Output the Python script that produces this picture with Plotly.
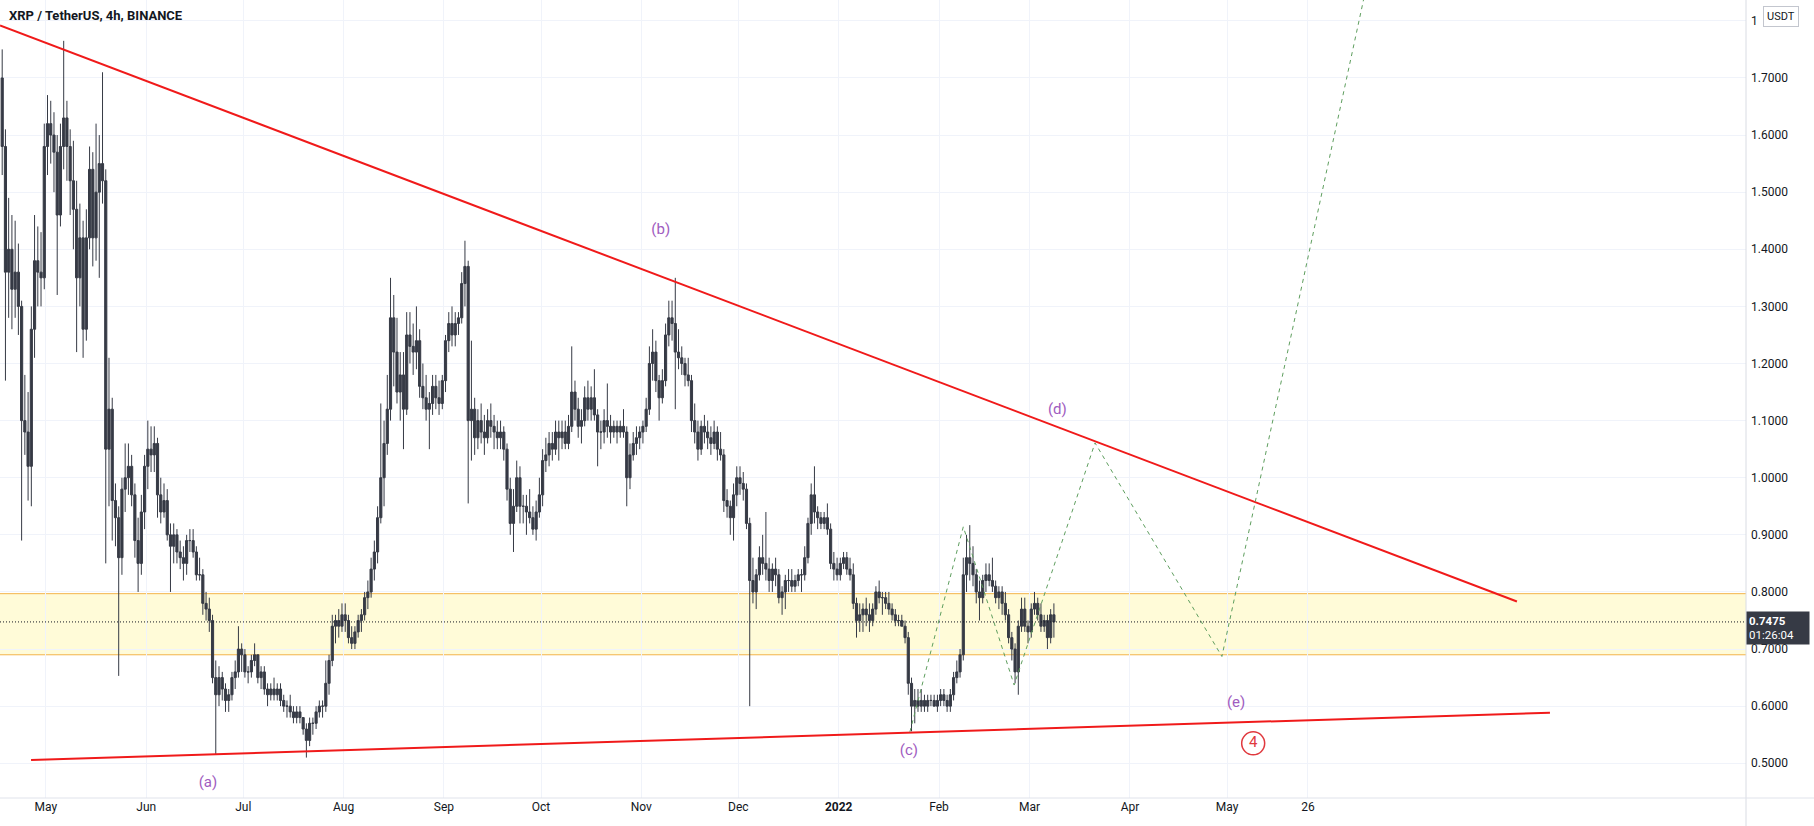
import pandas as pd
import plotly.graph_objects as go

# ---------------- data (daily summary of the 4h XRP/USDT candles) ----------------
first_day = "2021-04-17"

opens = [
    # Apr 17-30
    1.70, 1.58, 1.36, 1.40, 1.33, 1.36, 1.30, 1.10, 1.08, 1.02, 1.26, 1.38, 1.36, 1.35,
    # May
    1.58, 1.62, 1.60, 1.57, 1.46, 1.58, 1.63, 1.58, 1.52, 1.47, 1.35, 1.42, 1.26, 1.42, 1.54, 1.42,
    1.50, 1.55, 1.52, 1.05, 1.12, 0.96, 0.93, 0.86, 0.98, 1.00, 1.02, 0.97, 0.89, 0.85, 0.94,
    # Jun
    1.02, 1.05, 1.04, 1.06, 0.97, 0.94, 0.96, 0.90, 0.88, 0.90, 0.87, 0.86, 0.85, 0.89, 0.89,
    0.87, 0.83, 0.83, 0.78, 0.77, 0.75, 0.65, 0.62, 0.65, 0.63, 0.61, 0.62, 0.65, 0.66, 0.70,
    # Jul
    0.69, 0.66, 0.66, 0.68, 0.69, 0.65, 0.66, 0.63, 0.62, 0.63, 0.62, 0.63, 0.61, 0.60, 0.60, 0.59,
    0.58, 0.59, 0.58, 0.56, 0.54, 0.57, 0.57, 0.59, 0.60, 0.60, 0.64, 0.68, 0.74, 0.75, 0.74,
    # Aug
    0.76, 0.75, 0.72, 0.71, 0.73, 0.75, 0.76, 0.79, 0.80, 0.84, 0.87, 0.93, 1.00, 1.06, 1.12, 1.28,
    1.22, 1.15, 1.18, 1.12, 1.25, 1.23, 1.22, 1.24, 1.16, 1.14, 1.12, 1.13, 1.16, 1.14, 1.13,
    # Sep
    1.17, 1.24, 1.27, 1.25, 1.27, 1.28, 1.34, 1.37, 1.10, 1.12, 1.07, 1.10, 1.08, 1.07, 1.10,
    1.09, 1.08, 1.07, 1.08, 1.05, 0.98, 0.92, 0.95, 1.00, 0.95, 0.95, 0.94, 0.93, 0.91, 0.94,
    # Oct
    0.97, 1.03, 1.04, 1.06, 1.05, 1.08, 1.07, 1.08, 1.06, 1.09, 1.15, 1.12, 1.09, 1.10, 1.14, 1.12,
    1.14, 1.11, 1.08, 1.08, 1.10, 1.09, 1.08, 1.09, 1.08, 1.09, 1.08, 1.00, 1.04, 1.06, 1.07,
    # Nov
    1.08, 1.09, 1.12, 1.20, 1.22, 1.17, 1.14, 1.17, 1.25, 1.28, 1.27, 1.22, 1.21, 1.20, 1.18,
    1.17, 1.10, 1.08, 1.05, 1.09, 1.08, 1.07, 1.06, 1.08, 1.05, 1.04, 0.96, 0.95, 0.93, 0.97,
    # Dec
    1.00, 0.99, 0.98, 0.92, 0.82, 0.80, 0.83, 0.86, 0.85, 0.84, 0.82, 0.84, 0.83, 0.79, 0.80, 0.82,
    0.82, 0.81, 0.82, 0.83, 0.83, 0.86, 0.92, 0.97, 0.94, 0.93, 0.92, 0.93, 0.91, 0.85, 0.84,
    # Jan 2022
    0.83, 0.85, 0.86, 0.84, 0.83, 0.78, 0.75, 0.76, 0.77, 0.76, 0.75, 0.77, 0.80, 0.79, 0.79, 0.78,
    0.77, 0.76, 0.75, 0.75, 0.74, 0.72, 0.64, 0.60, 0.61, 0.60, 0.61, 0.60, 0.61, 0.61, 0.60,
    # Feb
    0.61, 0.62, 0.61, 0.60, 0.62, 0.65, 0.66, 0.69, 0.83, 0.86, 0.85, 0.83, 0.80, 0.79,
    0.82, 0.83, 0.82, 0.81, 0.79, 0.80, 0.78, 0.76, 0.72, 0.70, 0.66, 0.74, 0.77, 0.74,
    # Mar 1-8
    0.73, 0.77, 0.78, 0.76, 0.74, 0.75, 0.72, 0.76,
]

highs = [
    # Apr 17-30
    1.75, 1.61, 1.49, 1.46, 1.45, 1.41, 1.31, 1.18, 1.15, 1.30, 1.46, 1.44, 1.43, 1.62,
    # May
    1.67, 1.66, 1.64, 1.60, 1.62, 1.765, 1.66, 1.61, 1.59, 1.52, 1.48, 1.45, 1.47, 1.58, 1.57, 1.62,
    1.60, 1.71, 1.54, 1.21, 1.14, 0.99, 0.95, 1.00, 1.06, 1.06, 1.04, 0.99, 0.93, 0.97, 1.04,
    # Jun
    1.10, 1.09, 1.09, 1.07, 1.00, 0.99, 0.98, 0.92, 0.92, 0.91, 0.89, 0.88, 0.90, 0.91, 0.91,
    0.88, 0.86, 0.84, 0.80, 0.79, 0.76, 0.68, 0.67, 0.66, 0.64, 0.63, 0.66, 0.68, 0.74, 0.71,
    # Jul
    0.70, 0.67, 0.69, 0.71, 0.69, 0.67, 0.67, 0.64, 0.64, 0.65, 0.64, 0.64, 0.62, 0.61, 0.62, 0.60,
    0.60, 0.60, 0.58, 0.57, 0.58, 0.58, 0.60, 0.61, 0.61, 0.68, 0.69, 0.76, 0.76, 0.77, 0.78,
    # Aug
    0.78, 0.76, 0.74, 0.74, 0.76, 0.77, 0.80, 0.82, 0.86, 0.89, 0.95, 1.13, 1.10, 1.18, 1.35, 1.32,
    1.28, 1.22, 1.22, 1.29, 1.29, 1.27, 1.30, 1.26, 1.20, 1.18, 1.15, 1.18, 1.18, 1.17, 1.18,
    # Sep
    1.25, 1.29, 1.30, 1.29, 1.29, 1.36, 1.415, 1.38, 1.24, 1.14, 1.12, 1.13, 1.11, 1.12, 1.13,
    1.11, 1.10, 1.10, 1.09, 1.06, 1.00, 0.98, 1.03, 1.02, 0.97, 0.97, 0.98, 0.95, 0.96, 1.00,
    # Oct
    1.05, 1.07, 1.08, 1.08, 1.10, 1.10, 1.10, 1.10, 1.11, 1.23, 1.17, 1.14, 1.12, 1.16, 1.17, 1.16,
    1.19, 1.12, 1.10, 1.12, 1.165, 1.11, 1.10, 1.10, 1.10, 1.12, 1.09, 1.06, 1.08, 1.09, 1.09,
    # Nov
    1.10, 1.14, 1.23, 1.26, 1.24, 1.18, 1.19, 1.27, 1.31, 1.31, 1.35, 1.26, 1.23, 1.21, 1.21,
    1.18, 1.13, 1.10, 1.10, 1.11, 1.10, 1.09, 1.10, 1.09, 1.08, 1.05, 0.98, 0.96, 0.99, 1.02,
    # Dec
    1.02, 1.01, 0.99, 0.93, 0.86, 0.84, 0.88, 0.90, 0.94, 0.86, 0.85, 0.86, 0.84, 0.81, 0.83, 0.84,
    0.84, 0.83, 0.84, 0.84, 0.88, 0.93, 0.99, 1.02, 0.95, 0.94, 0.94, 0.955, 0.92, 0.87, 0.86,
    # Jan 2022
    0.86, 0.87, 0.87, 0.86, 0.85, 0.79, 0.78, 0.78, 0.79, 0.78, 0.78, 0.81, 0.82, 0.80, 0.80, 0.80,
    0.78, 0.77, 0.76, 0.76, 0.75, 0.73, 0.65, 0.63, 0.63, 0.63, 0.62, 0.62, 0.62, 0.62, 0.62,
    # Feb
    0.63, 0.63, 0.62, 0.63, 0.66, 0.68, 0.70, 0.86, 0.90, 0.917, 0.88, 0.84, 0.82, 0.83,
    0.85, 0.85, 0.86, 0.82, 0.81, 0.81, 0.80, 0.77, 0.73, 0.71, 0.75, 0.79, 0.79, 0.75,
    # Mar 1-8
    0.78, 0.80, 0.79, 0.78, 0.76, 0.76, 0.77, 0.78,
]

lows = [
    # Apr 17-30
    1.53, 1.17, 1.28, 1.26, 1.28, 1.25, 0.89, 1.04, 0.96, 0.95, 1.21, 1.30, 1.30, 1.33,
    # May
    1.53, 1.55, 1.50, 1.32, 1.44, 1.54, 1.52, 1.46, 1.40, 1.22, 1.30, 1.21, 1.24, 1.40, 1.37, 1.38,
    1.35, 1.48, 0.85, 0.95, 0.89, 0.88, 0.653, 0.83, 0.94, 0.97, 0.95, 0.86, 0.80, 0.83, 0.91,
    # Jun
    0.98, 1.01, 1.01, 0.93, 0.92, 0.93, 0.89, 0.80, 0.85, 0.85, 0.84, 0.82, 0.83, 0.87, 0.86,
    0.82, 0.82, 0.76, 0.75, 0.73, 0.64, 0.515, 0.60, 0.61, 0.59, 0.59, 0.61, 0.63, 0.65, 0.66,
    # Jul
    0.65, 0.64, 0.65, 0.67, 0.64, 0.63, 0.62, 0.60, 0.61, 0.61, 0.61, 0.60, 0.59, 0.58, 0.58, 0.57,
    0.57, 0.57, 0.55, 0.51, 0.53, 0.55, 0.56, 0.58, 0.58, 0.59, 0.62, 0.67, 0.71, 0.72, 0.73,
    # Aug
    0.73, 0.71, 0.70, 0.70, 0.72, 0.73, 0.75, 0.77, 0.79, 0.82, 0.85, 0.92, 0.95, 1.04, 1.10, 1.16,
    1.13, 1.10, 1.05, 1.11, 1.20, 1.18, 1.19, 1.14, 1.12, 1.10, 1.05, 1.11, 1.12, 1.11, 1.12,
    # Sep
    1.15, 1.22, 1.23, 1.23, 1.25, 1.27, 1.30, 0.955, 1.03, 1.04, 1.05, 1.06, 1.04, 1.06, 1.07,
    1.05, 1.05, 1.05, 1.03, 0.96, 0.90, 0.87, 0.94, 0.92, 0.92, 0.90, 0.92, 0.90, 0.89, 0.93,
    # Oct
    0.95, 1.01, 1.02, 1.03, 1.04, 1.03, 1.05, 1.05, 1.05, 1.08, 1.10, 1.07, 1.06, 1.09, 1.10, 1.10,
    1.10, 1.02, 1.05, 1.06, 1.07, 1.06, 1.07, 1.06, 1.07, 1.07, 0.95, 0.98, 1.03, 1.04, 1.05,
    # Nov
    1.06, 1.08, 1.11, 1.17, 1.15, 1.10, 1.13, 1.16, 1.23, 1.24, 1.12, 1.19, 1.18, 1.16, 1.16,
    1.08, 1.06, 1.03, 1.04, 1.06, 1.05, 1.04, 1.05, 1.03, 1.03, 0.94, 0.93, 0.90, 0.89, 0.95,
    # Dec
    0.97, 0.96, 0.91, 0.60, 0.78, 0.77, 0.82, 0.83, 0.82, 0.80, 0.80, 0.81, 0.78, 0.76, 0.77, 0.80,
    0.80, 0.80, 0.81, 0.80, 0.82, 0.85, 0.90, 0.92, 0.91, 0.91, 0.91, 0.90, 0.84, 0.82, 0.82,
    # Jan 2022
    0.82, 0.84, 0.83, 0.82, 0.77, 0.72, 0.73, 0.73, 0.74, 0.73, 0.74, 0.76, 0.78, 0.76, 0.77, 0.76,
    0.75, 0.74, 0.74, 0.74, 0.71, 0.62, 0.556, 0.57, 0.59, 0.59, 0.59, 0.59, 0.60, 0.60, 0.59,
    # Feb
    0.60, 0.60, 0.59, 0.59, 0.61, 0.64, 0.65, 0.68, 0.80, 0.82, 0.81, 0.78, 0.75, 0.78,
    0.80, 0.81, 0.80, 0.78, 0.77, 0.76, 0.75, 0.71, 0.68, 0.64, 0.62, 0.73, 0.73, 0.71,
    # Mar 1-8
    0.72, 0.76, 0.75, 0.73, 0.73, 0.70, 0.71, 0.72,
]

closes = [
    # Apr 17-30
    1.58, 1.36, 1.40, 1.33, 1.36, 1.30, 1.10, 1.08, 1.02, 1.26, 1.38, 1.36, 1.35, 1.58,
    # May
    1.62, 1.60, 1.57, 1.46, 1.58, 1.63, 1.58, 1.52, 1.47, 1.35, 1.42, 1.26, 1.42, 1.54, 1.42, 1.50,
    1.55, 1.52, 1.05, 1.12, 0.96, 0.93, 0.86, 0.98, 1.00, 1.02, 0.97, 0.89, 0.85, 0.94, 1.02,
    # Jun
    1.05, 1.04, 1.06, 0.97, 0.94, 0.96, 0.90, 0.88, 0.90, 0.87, 0.86, 0.85, 0.89, 0.89, 0.87,
    0.83, 0.83, 0.78, 0.77, 0.75, 0.65, 0.62, 0.65, 0.63, 0.61, 0.62, 0.65, 0.66, 0.70, 0.69,
    # Jul
    0.66, 0.66, 0.68, 0.69, 0.65, 0.66, 0.63, 0.62, 0.63, 0.62, 0.63, 0.61, 0.60, 0.60, 0.59, 0.58,
    0.59, 0.58, 0.56, 0.54, 0.57, 0.57, 0.59, 0.60, 0.60, 0.64, 0.68, 0.74, 0.75, 0.74, 0.76,
    # Aug
    0.75, 0.72, 0.71, 0.73, 0.75, 0.76, 0.79, 0.80, 0.84, 0.87, 0.93, 1.00, 1.06, 1.12, 1.28, 1.22,
    1.15, 1.18, 1.12, 1.25, 1.23, 1.22, 1.24, 1.16, 1.14, 1.12, 1.13, 1.16, 1.14, 1.13, 1.17,
    # Sep
    1.24, 1.27, 1.25, 1.27, 1.28, 1.34, 1.37, 1.10, 1.12, 1.07, 1.10, 1.08, 1.07, 1.10, 1.09,
    1.08, 1.07, 1.08, 1.05, 0.98, 0.92, 0.95, 1.00, 0.95, 0.95, 0.94, 0.93, 0.91, 0.94, 0.97,
    # Oct
    1.03, 1.04, 1.06, 1.05, 1.08, 1.07, 1.08, 1.06, 1.09, 1.15, 1.12, 1.09, 1.10, 1.14, 1.12, 1.14,
    1.11, 1.08, 1.08, 1.10, 1.09, 1.08, 1.09, 1.08, 1.09, 1.08, 1.00, 1.04, 1.06, 1.07, 1.08,
    # Nov
    1.09, 1.12, 1.20, 1.22, 1.17, 1.14, 1.17, 1.25, 1.28, 1.27, 1.22, 1.21, 1.20, 1.18, 1.17,
    1.10, 1.08, 1.05, 1.09, 1.08, 1.07, 1.06, 1.08, 1.05, 1.04, 0.96, 0.95, 0.93, 0.97, 1.00,
    # Dec
    0.99, 0.98, 0.92, 0.82, 0.80, 0.83, 0.86, 0.85, 0.84, 0.82, 0.84, 0.83, 0.79, 0.80, 0.82, 0.82,
    0.81, 0.82, 0.83, 0.83, 0.86, 0.92, 0.97, 0.94, 0.93, 0.92, 0.93, 0.91, 0.85, 0.84, 0.83,
    # Jan 2022
    0.85, 0.86, 0.84, 0.83, 0.78, 0.75, 0.76, 0.77, 0.76, 0.75, 0.77, 0.80, 0.79, 0.79, 0.78, 0.77,
    0.76, 0.75, 0.75, 0.74, 0.72, 0.64, 0.60, 0.61, 0.60, 0.61, 0.60, 0.61, 0.61, 0.60, 0.61,
    # Feb
    0.62, 0.61, 0.60, 0.62, 0.65, 0.66, 0.69, 0.83, 0.86, 0.85, 0.83, 0.80, 0.79, 0.82,
    0.83, 0.82, 0.81, 0.79, 0.80, 0.78, 0.76, 0.72, 0.70, 0.66, 0.74, 0.77, 0.74, 0.73,
    # Mar 1-8
    0.77, 0.78, 0.76, 0.74, 0.75, 0.72, 0.76, 0.7475,
]

# Drawings (date, price pairs)
upper_line_dates = ["2021-04-16 19:40", "2022-07-29 14:00"]
upper_line_prices = [1.792, 0.7833]
lower_line_dates = ["2021-04-26 10:00", "2022-08-08 19:00"]
lower_line_prices = [0.5058, 0.5886]

path_dates = ["2022-01-23 00:00", "2022-02-08 12:00", "2022-02-24 05:00",
              "2022-03-21 05:00", "2022-04-29 10:00", "2022-06-23 12:00"]
path_prices = [0.555, 0.914, 0.637, 1.061, 0.687, 2.134]

zone_low, zone_high = 0.690, 0.797
last_price = 0.7475

wave_labels = ["(a)", "(b)", "(c)", "(d)", "(e)"]
wave_dates = ["2021-06-20 02:00", "2021-11-07 00:00", "2022-01-22 17:00",
              "2022-03-09 14:00", "2022-05-03 19:00"]
wave_prices = [0.4655, 1.4338, 0.5215, 1.1178, 0.6056]

circle_label = ["4"]
circle_dates = ["2022-05-09 02:00"]
circle_prices = [0.535]

tick_dates = ["2021-05-01", "2021-06-01", "2021-07-01", "2021-08-01", "2021-09-01",
              "2021-10-01", "2021-11-01", "2021-12-01", "2022-01-01", "2022-02-01",
              "2022-03-01", "2022-04-01", "2022-05-01", "2022-05-26"]
tick_labels = ["May", "Jun", "Jul", "Aug", "Sep", "Oct", "Nov", "Dec", "<b>2022</b>",
               "Feb", "Mar", "Apr", "May", "26"]
price_ticks = [0.5, 0.6, 0.7, 0.8, 0.9, 1.0, 1.1, 1.2, 1.3, 1.4, 1.5, 1.6, 1.7, 1.8]
# the top label is hidden behind the currency badge, only its first digit shows
price_tick_labels = ["0.5000", "0.6000", "0.7000", "0.8000", "0.9000", "1.0000", "1.1000",
                     "1.2000", "1.3000", "1.4000", "1.5000", "1.6000", "1.7000", "1"]

x_range = ["2021-04-16 19:40", "2022-10-08 09:00"]
y_range = [0.4392, 1.8365]

# ---------------- styles ----------------
CANDLE = "#363a45"
RED = "#f01a1a"
GREEN = "#5e9e5e"
PURPLE = "#a05cc0"
RED4 = "#e0393e"
GRID = "#f0f3fa"
TEXT = "#131722"
FONT = "Roboto, Open Sans, sans-serif"

n = min(len(opens), len(highs), len(lows), len(closes))
days = pd.date_range(first_day, periods=n, freq="D") + pd.Timedelta(hours=12)

fig = go.Figure()

fig.add_trace(go.Candlestick(
    x=days, open=opens[:n], high=highs[:n], low=lows[:n], close=closes[:n],
    increasing=dict(line=dict(color=CANDLE, width=1), fillcolor=CANDLE),
    decreasing=dict(line=dict(color=CANDLE, width=1), fillcolor=CANDLE),
    whiskerwidth=0, showlegend=False, hoverinfo="skip",
))

fig.add_trace(go.Scatter(x=upper_line_dates, y=upper_line_prices, mode="lines",
                         line=dict(color=RED, width=2), hoverinfo="skip"))
fig.add_trace(go.Scatter(x=lower_line_dates, y=lower_line_prices, mode="lines",
                         line=dict(color=RED, width=2), hoverinfo="skip"))
fig.add_trace(go.Scatter(x=path_dates, y=path_prices, mode="lines",
                         line=dict(color=GREEN, width=1, dash="4px,4px"), hoverinfo="skip"))

fig.add_trace(go.Scatter(x=wave_dates, y=wave_prices, mode="text", text=wave_labels,
                         textposition="middle center", cliponaxis=False,
                         textfont=dict(color=PURPLE, size=15, family=FONT), hoverinfo="skip"))
fig.add_trace(go.Scatter(x=circle_dates, y=circle_prices, mode="markers+text", text=circle_label,
                         textposition="middle center",
                         marker=dict(symbol="circle-open", size=23, color=RED4,
                                     line=dict(width=1.5, color=RED4)),
                         textfont=dict(color=RED4, size=15, family=FONT), hoverinfo="skip"))

shapes = [
    # support / resistance zone
    dict(type="rect", xref="paper", yref="y", x0=0, x1=1, y0=zone_low, y1=zone_high,
         fillcolor="rgba(255,235,59,0.2)", line=dict(width=0), layer="below"),
    dict(type="line", xref="paper", yref="y", x0=0, x1=1, y0=zone_high, y1=zone_high,
         line=dict(color="#f3b54a", width=1), layer="below"),
    dict(type="line", xref="paper", yref="y", x0=0, x1=1, y0=zone_low, y1=zone_low,
         line=dict(color="#f3b54a", width=1), layer="below"),
    # last price line
    dict(type="line", xref="paper", yref="y", x0=0, x1=1, y0=last_price, y1=last_price,
         line=dict(color=TEXT, width=1, dash="1px,2px"), layer="above"),
    # price scale / time scale separators
    dict(type="line", xref="paper", yref="paper", x0=1, x1=1, y0=-0.04, y1=1,
         line=dict(color="#d9dce3", width=1)),
    dict(type="line", xref="paper", yref="paper", x0=0, x1=1.04, y0=0, y1=0,
         line=dict(color="#e0e3eb", width=1)),
]

annotations = [
    dict(xref="paper", yref="paper", x=0.0042, y=0.98, xanchor="left", yanchor="middle",
         text="<b>XRP / TetherUS, 4h, BINANCE</b>", showarrow=False,
         font=dict(size=13, color=TEXT, family=FONT)),
    dict(xref="paper", yref="paper", x=1.0098, y=0.979, xanchor="left", yanchor="middle",
         text="USDT", showarrow=False, bgcolor="white", bordercolor="#c3c6ce", borderwidth=1,
         borderpad=3, font=dict(size=11, color=TEXT, family=FONT)),
    dict(xref="paper", yref="y", x=1.0, y=0.7364, xanchor="left", yanchor="middle",
         text="<b>0.7475</b><br>01:26:04", showarrow=False, align="left",
         bgcolor="#363a45", borderpad=2, width=58, height=28,
         font=dict(size=11.5, color="white", family=FONT)),
]

fig.update_layout(
    width=1814, height=826, autosize=False,
    margin=dict(l=0, r=68, t=0, b=28),
    paper_bgcolor="white", plot_bgcolor="white",
    showlegend=False, boxgap=0.05,
    shapes=shapes, annotations=annotations,
    xaxis=dict(type="date", range=x_range, rangeslider=dict(visible=False),
               tickmode="array", tickvals=tick_dates, ticktext=tick_labels,
               showgrid=True, gridcolor=GRID, gridwidth=1, zeroline=False, showline=False,
               ticks="", tickfont=dict(size=12, color=TEXT, family=FONT), fixedrange=True),
    yaxis=dict(side="right", range=y_range, tickmode="array", tickvals=price_ticks,
               ticktext=price_tick_labels, showgrid=True, gridcolor=GRID, gridwidth=1,
               zeroline=False, showline=False, ticks="", ticklabelstandoff=4,
               tickfont=dict(size=12, color=TEXT, family=FONT), fixedrange=True),
)

fig.write_html("out.html", config={"displayModeBar": False})
